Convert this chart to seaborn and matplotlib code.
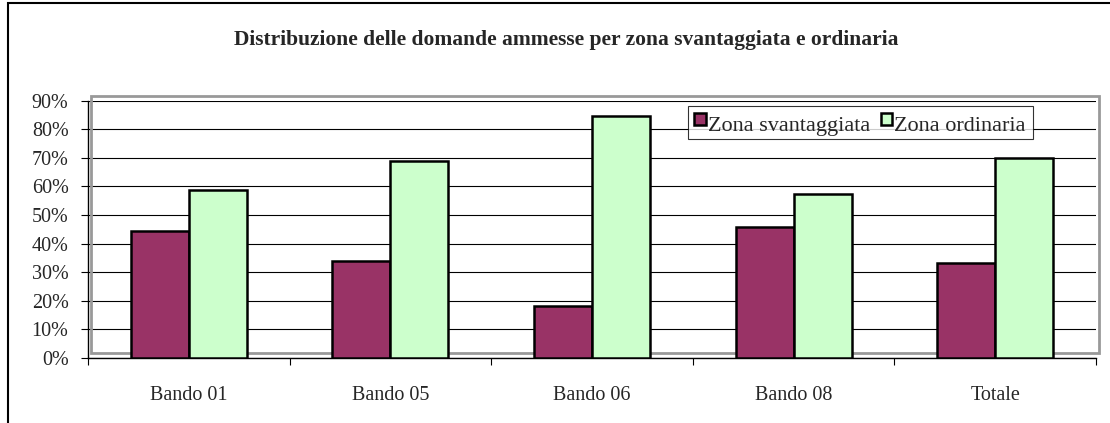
import matplotlib
matplotlib.use("Agg")
import matplotlib.pyplot as plt
import matplotlib.transforms as mtransforms
from matplotlib.patches import Rectangle
import seaborn as sns
import pandas as pd

categories = ["Bando 01", "Bando 05", "Bando 06", "Bando 08", "Totale"]
series_names = ["Zona svantaggiata", "Zona ordinaria"]
zona_svantaggiata = [44.4, 34.0, 18.3, 45.7, 33.1]
zona_ordinaria = [58.7, 69.0, 84.7, 57.3, 69.8]
title = "Distribuzione delle domande ammesse per zona svantaggiata e ordinaria"
y_ticks = [0, 10, 20, 30, 40, 50, 60, 70, 80, 90]

df = pd.DataFrame({
    "cat": categories * 2,
    "serie": [series_names[0]] * 5 + [series_names[1]] * 5,
    "val": [v / 100 for v in zona_svantaggiata] + [v / 100 for v in zona_ordinaria],
})

sns.set_theme(style="white")
plt.rcParams["font.family"] = ["Liberation Serif", "DejaVu Serif"]

FS = 14.5
W, H = 1110, 423
fig = plt.figure(figsize=(W / 100, H / 100), dpi=100)
ax = fig.add_axes([88 / W, 1 - 358 / H, (1096 - 88) / W, (358 - 100.7) / H])

sns.barplot(data=df, x="cat", y="val", hue="serie", order=categories,
            hue_order=series_names, palette=["#993366", "#CCFFCC"],
            width=0.576, gap=0, edgecolor="black", linewidth=1.8,
            saturation=1, ax=ax, zorder=3)

ax.set_xlim(-0.5, 4.5)
ax.set_ylim(0, 0.9)
ax.set_yticks([t / 100 for t in y_ticks])
ax.set_yticklabels([f"{t}%" for t in y_ticks], fontsize=FS)
ax.yaxis.grid(True, color="black", linewidth=0.8, zorder=1)
ax.set_axisbelow(True)
ax.set_xlabel("")
ax.set_ylabel("")

ax.set_xticks(range(len(categories)))
ax.set_xticklabels(categories, fontsize=FS)
ax.set_xticks([i - 0.5 for i in range(len(categories) + 1)], minor=True)
ax.tick_params(axis="x", which="major", length=0, pad=20)
ax.tick_params(axis="x", which="minor", length=5, width=0.8, color="black", direction="out", bottom=True)
ax.tick_params(axis="y", length=5, width=0.8, color="black", direction="out", left=True, pad=9)

for s in ["top", "right"]:
    ax.spines[s].set_visible(False)
for s in ["left", "bottom"]:
    ax.spines[s].set_color("black")
    ax.spines[s].set_linewidth(1.0)

# gray plot-area wall, offset like the original
tr = mtransforms.offset_copy(ax.transAxes, fig=fig, x=3, y=5, units="dots")
ax.add_patch(Rectangle((0, 0), 1, 1, transform=tr, fill=False, ec="#999999",
                       lw=2, clip_on=False, zorder=2))

leg = ax.legend(loc="upper left", bbox_to_anchor=(0.595, 0.979), borderaxespad=0,
                ncol=2, frameon=True, fancybox=False, fontsize=16,
                handlelength=0.5, handleheight=0.5, handletextpad=0.1,
                columnspacing=0.5, borderpad=0.3)
leg.get_frame().set_edgecolor("black")
leg.get_frame().set_linewidth(0.8)
leg.set_zorder(5)
for t in leg.get_texts():
    t.set_y(-4)

fig.text(566 / W, 1 - 40 / H, title, ha="center", va="center",
         fontsize=15.5, fontweight="bold")

fig.add_artist(Rectangle((8 / W, -0.1), 1.2, 1.1 - 3 / H, transform=fig.transFigure,
                         fill=False, ec="black", lw=1.5))

fig.savefig("out.png", dpi=100)
